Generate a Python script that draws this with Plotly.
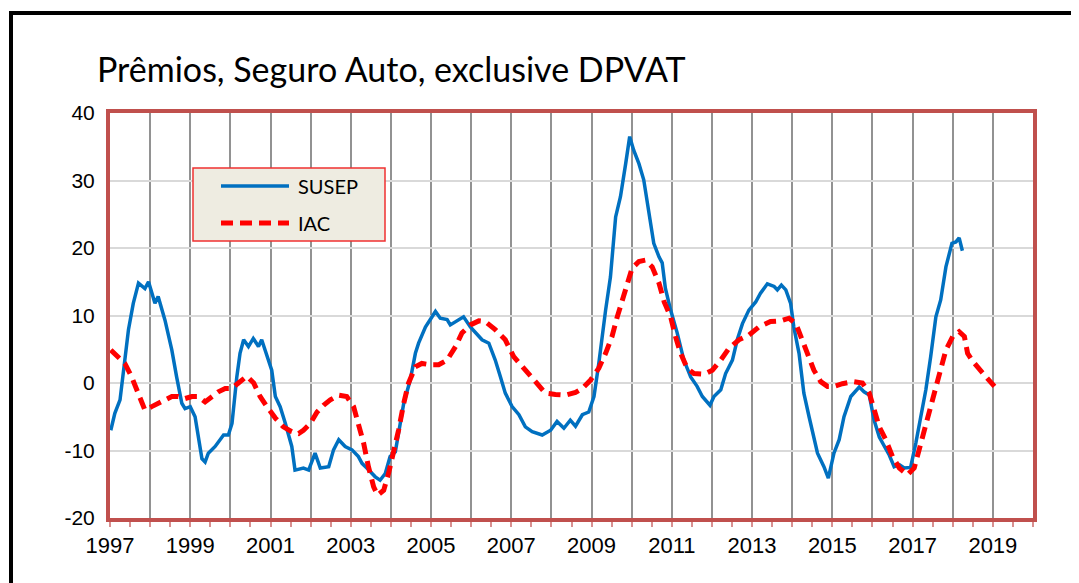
# Prêmios, Seguro Auto - SUSEP vs IAC (variação % em 12 meses)
import plotly.graph_objects as go

# valores (anos em decimal)
susep_x = [1997.02, 1997.12, 1997.25, 1997.33, 1997.46, 1997.58, 1997.71, 1997.87, 1997.96, 1998.12,
           1998.20, 1998.37, 1998.54, 1998.66, 1998.79, 1998.87, 1999.00, 1999.12, 1999.20, 1999.29,
           1999.37, 1999.45, 1999.62, 1999.83, 1999.95, 2000.04, 2000.16, 2000.24, 2000.33, 2000.45,
           2000.57, 2000.70, 2000.78, 2000.91, 2001.03, 2001.12, 2001.24, 2001.37, 2001.53, 2001.61,
           2001.82, 2001.95, 2002.11, 2002.24, 2002.45, 2002.57, 2002.70, 2002.86, 2003.03, 2003.19,
           2003.28, 2003.40, 2003.61, 2003.73, 2003.86, 2003.98, 2004.11, 2004.32, 2004.48, 2004.61,
           2004.69, 2004.86, 2004.98, 2005.11, 2005.23, 2005.40, 2005.48, 2005.65, 2005.81, 2005.98,
           2006.19, 2006.27, 2006.44, 2006.60, 2006.73, 2006.85, 2007.02, 2007.19, 2007.35, 2007.52,
           2007.77, 2007.98, 2008.14, 2008.31, 2008.47, 2008.60, 2008.77, 2008.93, 2009.06, 2009.18,
           2009.35, 2009.47, 2009.60, 2009.72, 2009.85, 2009.95, 2010.05, 2010.18, 2010.30, 2010.43,
           2010.55, 2010.68, 2010.76, 2010.84, 2010.97, 2011.13, 2011.30, 2011.47, 2011.63, 2011.76,
           2011.95, 2012.05, 2012.22, 2012.34, 2012.51, 2012.63, 2012.76, 2012.92, 2013.09, 2013.21,
           2013.38, 2013.55, 2013.63, 2013.73, 2013.84, 2013.96, 2014.04, 2014.17, 2014.29, 2014.42,
           2014.63, 2014.79, 2014.90, 2015.04, 2015.17, 2015.29, 2015.46, 2015.67, 2015.79, 2015.92,
           2016.04, 2016.17, 2016.29, 2016.42, 2016.54, 2016.67, 2016.79, 2016.95, 2017.08, 2017.20,
           2017.33, 2017.45, 2017.58, 2017.70, 2017.83, 2017.98, 2018.08, 2018.16, 2018.24]
susep_y = [-7.0, -4.5, -2.5, 1.4, 7.9, 11.8, 14.8, 14.0, 15.0, 11.8,
           12.8, 9.3, 4.9, 0.9, -3.0, -3.8, -3.5, -5.0, -8.0, -11.2,
           -11.7, -10.4, -9.4, -7.7, -7.7, -6.0, 0.9, 4.4, 6.4, 5.4,
           6.6, 5.4, 6.4, 3.9, 1.9, -2.0, -3.5, -6.0, -9.4, -12.9,
           -12.6, -12.9, -10.4, -12.6, -12.4, -9.9, -8.4, -9.4, -9.9, -10.9,
           -11.9, -12.6, -13.9, -14.4, -13.4, -10.9, -10.2, -3.0, 0.4, 4.4,
           5.9, 8.3, 9.3, 10.6, 9.6, 9.4, 8.6, 9.3, 9.8, 8.3,
           6.9, 6.4, 5.9, 3.4, 0.9, -1.5, -3.5, -4.7, -6.5, -7.2,
           -7.7, -7.0, -5.7, -6.7, -5.5, -6.4, -4.7, -4.3, -2.0, 2.9,
           10.8, 15.7, 24.6, 27.6, 32.5, 36.5, 34.5, 32.5, 30.1, 25.6,
           20.7, 18.7, 17.8, 14.0, 10.8, 7.5, 3.4, 0.9, -0.5, -2.0,
           -3.3, -2.0, -1.0, 1.4, 3.4, 6.4, 8.8, 10.8, 12.0, 13.3,
           14.7, 14.3, 13.8, 14.5, 13.8, 11.8, 8.3, 4.4, -1.5, -5.0,
           -10.4, -12.4, -14.1, -10.4, -8.4, -5.0, -2.0, -0.6, -1.3, -1.8,
           -5.5, -8.0, -9.4, -10.7, -12.4, -12.1, -12.6, -12.5, -8.9, -5.0,
           -1.0, 3.9, 9.8, 12.3, 17.2, 20.7, 20.9, 21.5, 19.6]

iac_x = [1997.02, 1997.21, 1997.37, 1997.54, 1997.71, 1997.87, 1998.04, 1998.20, 1998.37, 1998.54,
         1998.70, 1998.87, 1999.04, 1999.20, 1999.37, 1999.54, 1999.70, 1999.87, 2000.04, 2000.20,
         2000.41, 2000.58, 2000.74, 2000.91, 2001.12, 2001.32, 2001.53, 2001.70, 2001.82, 2001.99,
         2002.16, 2002.32, 2002.49, 2002.70, 2002.90, 2003.07, 2003.19, 2003.32, 2003.44, 2003.57,
         2003.67, 2003.82, 2003.94, 2004.07, 2004.19, 2004.32, 2004.44, 2004.61, 2004.77, 2004.98,
         2005.19, 2005.40, 2005.61, 2005.77, 2005.98, 2006.19, 2006.35, 2006.60, 2006.85, 2007.06,
         2007.27, 2007.48, 2007.69, 2007.85, 2008.10, 2008.35, 2008.60, 2008.77, 2008.97, 2009.18,
         2009.35, 2009.51, 2009.64, 2009.76, 2009.89, 2010.01, 2010.18, 2010.34, 2010.51, 2010.68,
         2010.81, 2010.97, 2011.09, 2011.22, 2011.38, 2011.55, 2011.80, 2012.01, 2012.22, 2012.42,
         2012.67, 2012.92, 2013.17, 2013.46, 2013.71, 2013.92, 2014.09, 2014.21, 2014.38, 2014.54,
         2014.71, 2014.88, 2015.04, 2015.25, 2015.54, 2015.75, 2015.92, 2016.04, 2016.17, 2016.33,
         2016.50, 2016.67, 2016.87, 2017.04, 2017.16, 2017.33, 2017.50, 2017.66, 2017.83, 2018.00,
         2018.16, 2018.29, 2018.37, 2018.50, 2018.66, 2018.83, 2019.04]
iac_y = [4.9, 3.9, 2.9, 0.9, -1.5, -4.0, -3.5, -3.0, -2.4, -2.0,
         -2.0, -2.3, -2.0, -2.0, -2.8, -2.0, -1.3, -0.8, -0.8, 0.0,
         1.0, 0.0, -2.0, -3.5, -5.2, -6.5, -7.2, -7.5, -7.0, -6.0,
         -4.3, -3.3, -2.5, -1.8, -2.0, -3.5, -6.0, -8.9, -12.4, -15.4,
         -16.6, -15.9, -13.4, -10.4, -7.0, -3.0, 0.0, 2.4, 2.9, 2.7,
         2.7, 3.4, 5.4, 7.4, 8.6, 9.2, 9.1, 7.9, 6.4, 3.9,
         2.4, 0.9, -0.5, -1.5, -1.7, -1.8, -1.4, -0.8, 0.4, 2.2,
         4.4, 6.9, 9.8, 12.3, 14.8, 17.0, 18.0, 18.2, 17.2, 14.8,
         12.0, 9.8, 6.9, 4.4, 2.2, 1.4, 1.3, 1.9, 3.4, 5.1,
         6.4, 7.1, 8.3, 9.1, 9.2, 9.6, 8.8, 6.9, 4.4, 1.9,
         0.2, -0.5, -0.5, -0.1, 0.2, 0.0, -1.5, -4.0, -6.5, -8.4,
         -10.9, -12.6, -13.6, -12.6, -9.9, -6.5, -2.0, 1.4, 4.9, 6.9,
         7.6, 6.9, 4.4, 3.2, 2.2, 0.9, -0.5]

anos = list(range(1997, 2021))
anos_txt = [str(a) if a % 2 == 1 else "" for a in anos]
niveis = [-20, -10, 0, 10, 20, 30, 40]
niveis_txt = [str(v) for v in niveis]  # hífen simples, como no original

TITULO = "Lato, 'Liberation Sans', sans-serif"
EIXOS = "'Liberation Sans', Arial, sans-serif"

AZUL = dict(color="#0070C0", width=3.5)
VERMELHO = dict(color="#FF0000", width=5, dash="12px,7px")

# a página tem margem de 8px no body; a figura fica 8px menor
W, H = 1071, 575
ML, MR, MT, MB = 102, 46, 105, 65
PW, PH = W - ML - MR, H - MT - MB


def px(xp):
    # pixel na janela -> coordenada paper
    return (xp - 8 - ML) / PW


def py(yp):
    return (H - MB - (yp - 8)) / PH


fig = go.Figure()
fig.add_trace(go.Scatter(x=susep_x, y=susep_y, name="SUSEP", mode="lines", line=AZUL))
fig.add_trace(go.Scatter(x=iac_x, y=iac_y, name="IAC", mode="lines", line=VERMELHO))

fig.update_layout(
    width=W, height=H,
    margin=dict(l=ML, r=MR, t=MT, b=MB),
    paper_bgcolor="white", plot_bgcolor="white",
    font=dict(family=EIXOS, color="black"),
    title=dict(text="Prêmios, Seguro Auto, exclusive DPVAT", x=(97 - 8) / W, xanchor="left",
               y=1 - (70 - 8) / H, yanchor="middle", font=dict(size=34, family=TITULO)),
    showlegend=False,
)

fig.update_xaxes(range=[1997, 2020], tickvals=anos, ticktext=anos_txt,
                 showgrid=True, gridcolor="#929292", gridwidth=1.8,
                 showline=True, mirror=True, linecolor="#C0504D", linewidth=4,
                 ticks="outside", ticklen=5, tickcolor="#D89090", tickwidth=1.5,
                 minor=dict(dtick=0.5, ticks="outside", ticklen=5, tickcolor="#D89090", showgrid=False),
                 tickfont=dict(size=22), zeroline=False)
fig.update_yaxes(range=[-20, 40], tickvals=niveis, ticktext=niveis_txt,
                 showgrid=True, gridcolor="#D9D9D9", gridwidth=1.5,
                 showline=True, mirror=True, linecolor="#C0504D", linewidth=4,
                 ticks="outside", ticklen=7, tickcolor="rgba(0,0,0,0)",
                 tickfont=dict(size=21), zeroline=False)

# legenda desenhada à mão (caixa bege com borda vermelha)
fig.add_shape(type="rect", xref="paper", yref="paper",
              x0=px(193), x1=px(385), y0=py(241), y1=py(168),
              line=dict(color="#F03030", width=1.5), fillcolor="#EEECE1")
fig.add_shape(type="line", xref="paper", yref="paper",
              x0=px(221), x1=px(289), y0=py(186), y1=py(186), line=AZUL)
fig.add_shape(type="line", xref="paper", yref="paper",
              x0=px(221), x1=px(289), y0=py(223), y1=py(223), line=VERMELHO)
for nome, yy in [("SUSEP", 186), ("IAC", 223)]:
    fig.add_annotation(text=nome, xref="paper", yref="paper", x=px(296), y=py(yy),
                       xanchor="left", yanchor="middle", showarrow=False,
                       font=dict(size=20, family=TITULO))

# moldura preta externa
fig.add_shape(type="rect", xref="paper", yref="paper",
              x0=px(11), x1=px(1095), y0=py(600), y1=py(13),
              line=dict(color="black", width=4), fillcolor="rgba(0,0,0,0)")

fig.write_html("out.html")
